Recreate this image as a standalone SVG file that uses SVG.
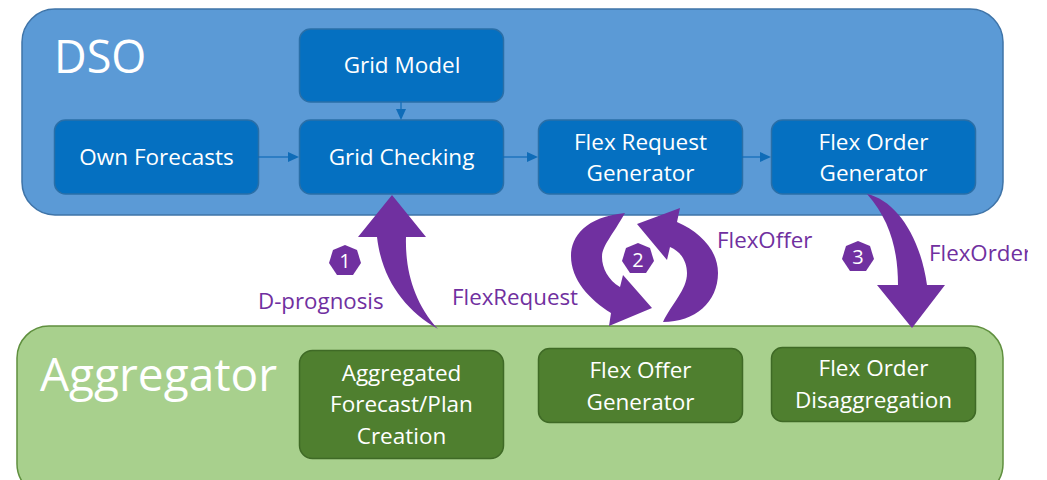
<svg xmlns="http://www.w3.org/2000/svg" width="1047" height="480" viewBox="0 0 1047 480">
<style>
text{font-family:"Open Sans","Noto Sans","Liberation Sans",sans-serif}
.n{fill:#0570c1;stroke:#2a6fa8;stroke-width:1.5}
.g{fill:#4f7f2f;stroke:#3f6a26;stroke-width:1.5}
.t{fill:#fff;font-size:22.5px;text-anchor:middle}
.p{fill:#7030a0;font-size:22.300px}
.a{fill:#7030a0}
.c{fill:none;stroke:#0f6cb8;stroke-width:1.2}
.h{fill:#0f6cb8}
.num{fill:#fff;font-size:20px;text-anchor:middle}
</style>
<defs><clipPath id="clip"><rect x="0" y="0" width="1028" height="480"/></clipPath></defs>
<rect width="1047" height="480" fill="#fff"/>
<g id="dso"><rect x="22" y="9" width="981" height="206" rx="33" fill="#5b9ad6" stroke="#3f74a8" stroke-width="1.5"/><text x="54" y="73" fill="#fff" font-size="45">DSO</text></g>
<g id="aggregator"><rect x="17" y="326" width="986" height="170" rx="32" fill="#a8d08d" stroke="#5f8f3e" stroke-width="1.5"/><text x="40" y="391" fill="#fff" font-size="46">Aggregator</text></g>
<g id="grid-model"><rect class="n" x="299.500" y="29" width="204" height="73" rx="11"/><text class="t" x="402" y="73">Grid Model</text></g>
<g id="own-forecasts"><rect class="n" x="54.500" y="120" width="204" height="74" rx="11"/><text class="t" x="156.500" y="165">Own Forecasts</text></g>
<g id="grid-checking"><rect class="n" x="299.500" y="120" width="204" height="74" rx="11"/><text class="t" x="401.500" y="165">Grid Checking</text></g>
<g id="flex-request"><rect class="n" x="538.500" y="120" width="204" height="74" rx="11"/><text class="t" x="640.500" y="150">Flex Request</text><text class="t" x="640.500" y="181">Generator</text></g>
<g id="flex-order"><rect class="n" x="771.500" y="120" width="204" height="74" rx="11"/><text class="t" x="873.500" y="150">Flex Order</text><text class="t" x="873.500" y="181">Generator</text></g>
<g id="aggregated"><rect class="g" x="299.500" y="350.500" width="204" height="108" rx="13"/><text class="t" x="401.500" y="381">Aggregated</text><text class="t" x="401.500" y="412">Forecast/Plan</text><text class="t" x="401.500" y="444">Creation</text></g>
<g id="flex-offer"><rect class="g" x="538.500" y="348.500" width="204" height="74" rx="11"/><text class="t" x="640.500" y="378">Flex Offer</text><text class="t" x="640.500" y="410">Generator</text></g>
<g id="flex-disagg"><rect class="g" x="771.500" y="347.500" width="204" height="74" rx="11"/><text class="t" x="873.500" y="376">Flex Order</text><text class="t" x="873.500" y="408">Disaggregation</text></g>
<g id="connectors">
<path class="c" d="M258 157H290"/><path class="h" d="M299 157l-11-5v10z"/>
<path class="c" d="M401 102V110"/><path class="h" d="M401 120l-5-11h10z"/>
<path class="c" d="M503 157H528"/><path class="h" d="M538 157l-11-5v10z"/>
<path class="c" d="M742 157H762"/><path class="h" d="M771 157l-11-5v10z"/>
<path class="a" d="M392 195L426 237H406C405 270 414 303 438 329C405 310 382 280 377 237H358Z"/>
<path class="a" d="M625 213C586 217 571 236 571 256C571 280 590 300 611 313L609 326L652 308L623 275L620 287C608 280 602 268 602 257C602 246 612 236 625 213Z"/>
<path class="a" d="M680 208L637 224L667 260L670 247C682 252 687 263 687 273C687 290 672 303 663 322C695 322 718 302 718 273C718 250 700 232 677 222Z"/>
<path class="a" d="M867 194C895 200 920 235 927 285H945L912 328L877 285H898C898 250 890 220 867 194Z"/>
</g>
<g id="badge-1"><polygon class="a" points="345,245 357,250 361,263 353,275 337,275 329,263 333,250"/><text class="num" x="345" y="268">1</text></g>
<g id="badge-2"><polygon class="a" points="638,243 650,248 654,261 646,273 630,273 622,261 626,248"/><text class="num" x="638" y="267">2</text></g>
<g id="badge-3"><polygon class="a" points="858,241 870,246 874,259 866,271 850,271 842,259 846,246"/><text class="num" x="858" y="264">3</text></g>
<g id="labels" clip-path="url(#clip)">
<text class="p" x="258" y="309">D-prognosis</text>
<text class="p" x="452" y="305">FlexRequest</text>
<text class="p" x="717" y="248">FlexOffer</text>
<text class="p" x="929" y="261">FlexOrder</text>
</g>
</svg>
